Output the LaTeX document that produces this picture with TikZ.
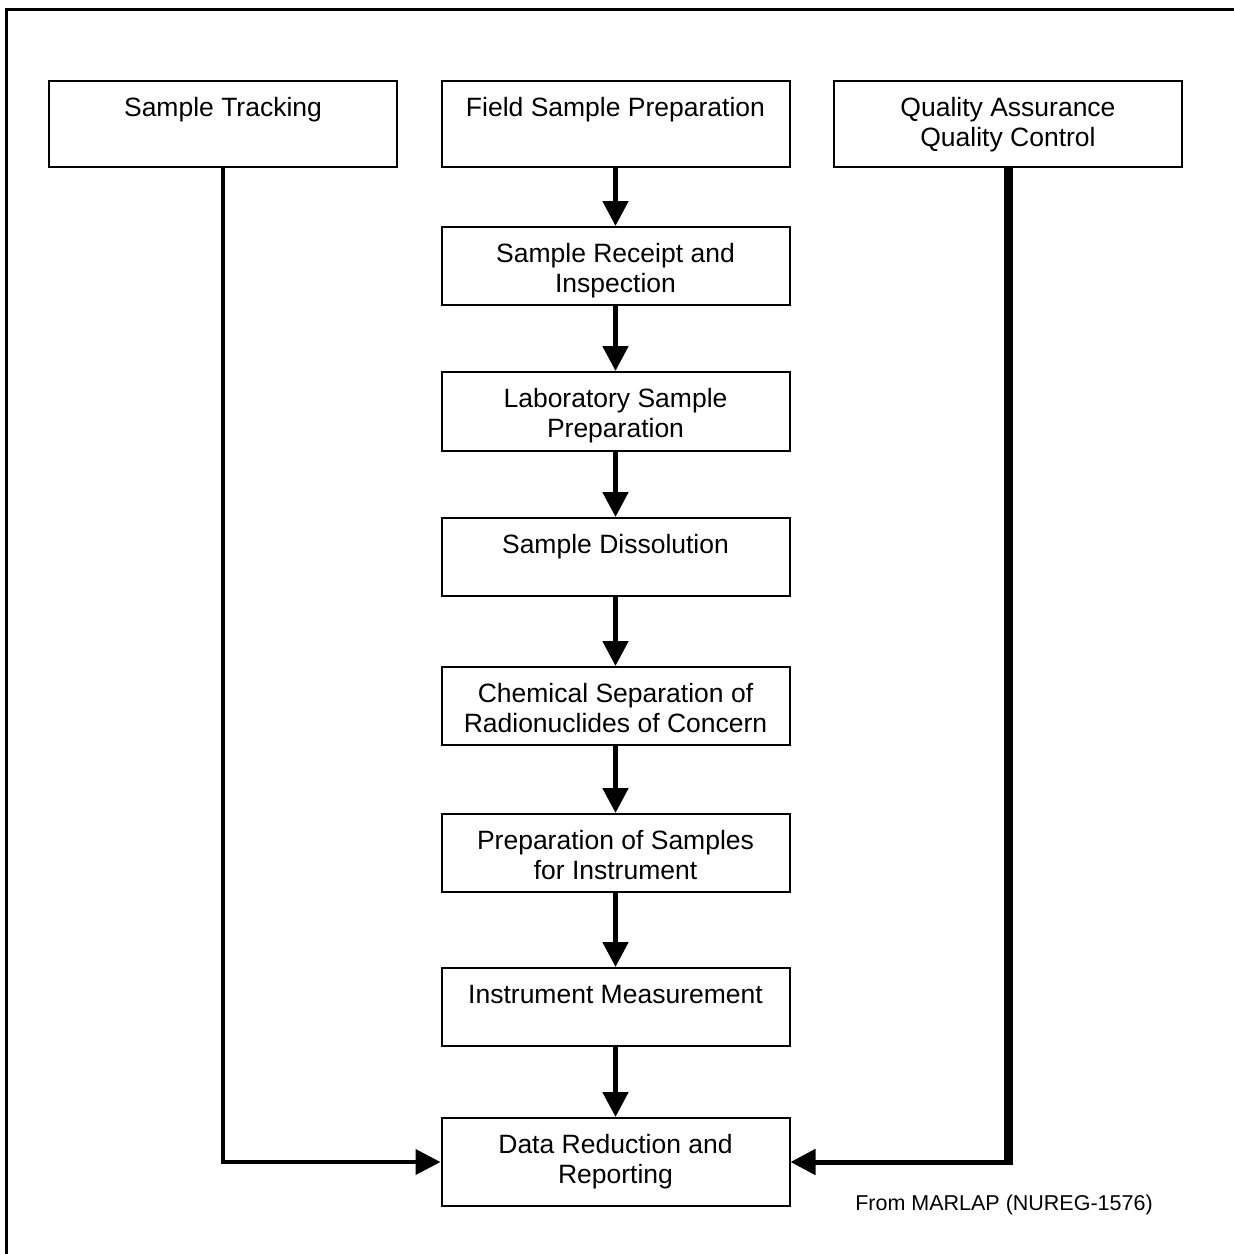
\documentclass[tikz,border=0pt]{standalone}
\usepackage{fontspec}
\setmainfont{Liberation Sans}
\usetikzlibrary{arrows.meta,calc}
\begin{document}
\begin{tikzpicture}[x=0.5pt,y=-0.5pt,
  box/.style={draw, line width=1pt, minimum width=174pt, inner sep=0pt},
  boxtext/.style={anchor=north, align=center, inner sep=0pt,
    font=\fontsize{13.25pt}{15pt}\selectfont},
  tip/.style={-{Triangle[length=12.5pt,width=12.5pt]}},
  flow/.style={tip, line width=2.5pt}]

\useasboundingbox (0,0) rectangle (1233,1254);

% outer frame (top and left edges)
\draw[line width=1.5pt, line join=miter] (6.5,1270) -- (6.5,9.5) -- (1250,9.5);

% top row
\node[box, minimum height=43pt] (track) at (223,124) {};
\node[box, minimum height=43pt] (field) at (615.5,124) {};
\node[box, minimum height=43pt] (qa) at (1008,124) {};

% process column
\node[box, minimum height=39pt]   (recv) at (615.5,266) {};
\node[box, minimum height=39.5pt] (lab)  at (615.5,411.5) {};
\node[box, minimum height=39pt]   (diss) at (615.5,557) {};
\node[box, minimum height=39pt]   (chem) at (615.5,706) {};
\node[box, minimum height=39pt]   (prep) at (615.5,853) {};
\node[box, minimum height=39pt]   (inst) at (615.5,1007) {};
\node[box, minimum height=44pt]   (data) at (615.5,1162) {};

% box texts, set at the top of each box
\node[boxtext] (track-t) at ($(track.north)+(0,15)$) {\strut Sample Tracking};
\node[boxtext] (field-t) at ($(field.north)+(0,15)$) {\strut Field Sample Preparation};
\node[boxtext] (qa-t)    at ($(qa.north)+(0,15)$)    {\strut Quality Assurance\\Quality Control};
\node[boxtext] (recv-t)  at ($(recv.north)+(0,15)$)  {\strut Sample Receipt and\\Inspection};
\node[boxtext] (lab-t)   at ($(lab.north)+(0,15)$)   {\strut Laboratory Sample\\Preparation};
\node[boxtext] (diss-t)  at ($(diss.north)+(0,15)$)  {\strut Sample Dissolution};
\node[boxtext] (chem-t)  at ($(chem.north)+(0,15)$)  {\strut Chemical Separation of\\Radionuclides of Concern};
\node[boxtext] (prep-t)  at ($(prep.north)+(0,15)$)  {\strut Preparation of Samples\\for Instrument};
\node[boxtext] (inst-t)  at ($(inst.north)+(0,15)$)  {\strut Instrument Measurement};
\node[boxtext] (data-t)  at ($(data.north)+(0,15)$)  {\strut Data Reduction and\\Reporting};

% main flow
\draw[flow] (field.south) -- (recv.north);
\draw[flow] (recv.south) -- (lab.north);
\draw[flow] (lab.south) -- (diss.north);
\draw[flow] (diss.south) -- (chem.north);
\draw[flow] (chem.south) -- (prep.north);
\draw[flow] (prep.south) -- (inst.north);
\draw[flow] (inst.south) -- (data.north);

% sample tracking feed
\draw[tip, line width=2pt, line join=miter] (track.south) |- (data.west);

% QA/QC feed
\coordinate (qa-corner) at (qa.south |- data.east);
\draw[line width=4.5pt] (qa.south) -- ($(qa-corner)+(0,2.5)$);
\draw[flow] (qa-corner) -- (data.east);

% source note
\node[anchor=base, inner sep=0pt, font=\fontsize{10.75pt}{12pt}\selectfont]
  (src) at (1004,1210) {From MARLAP (NUREG-1576)};

\end{tikzpicture}
\end{document}
